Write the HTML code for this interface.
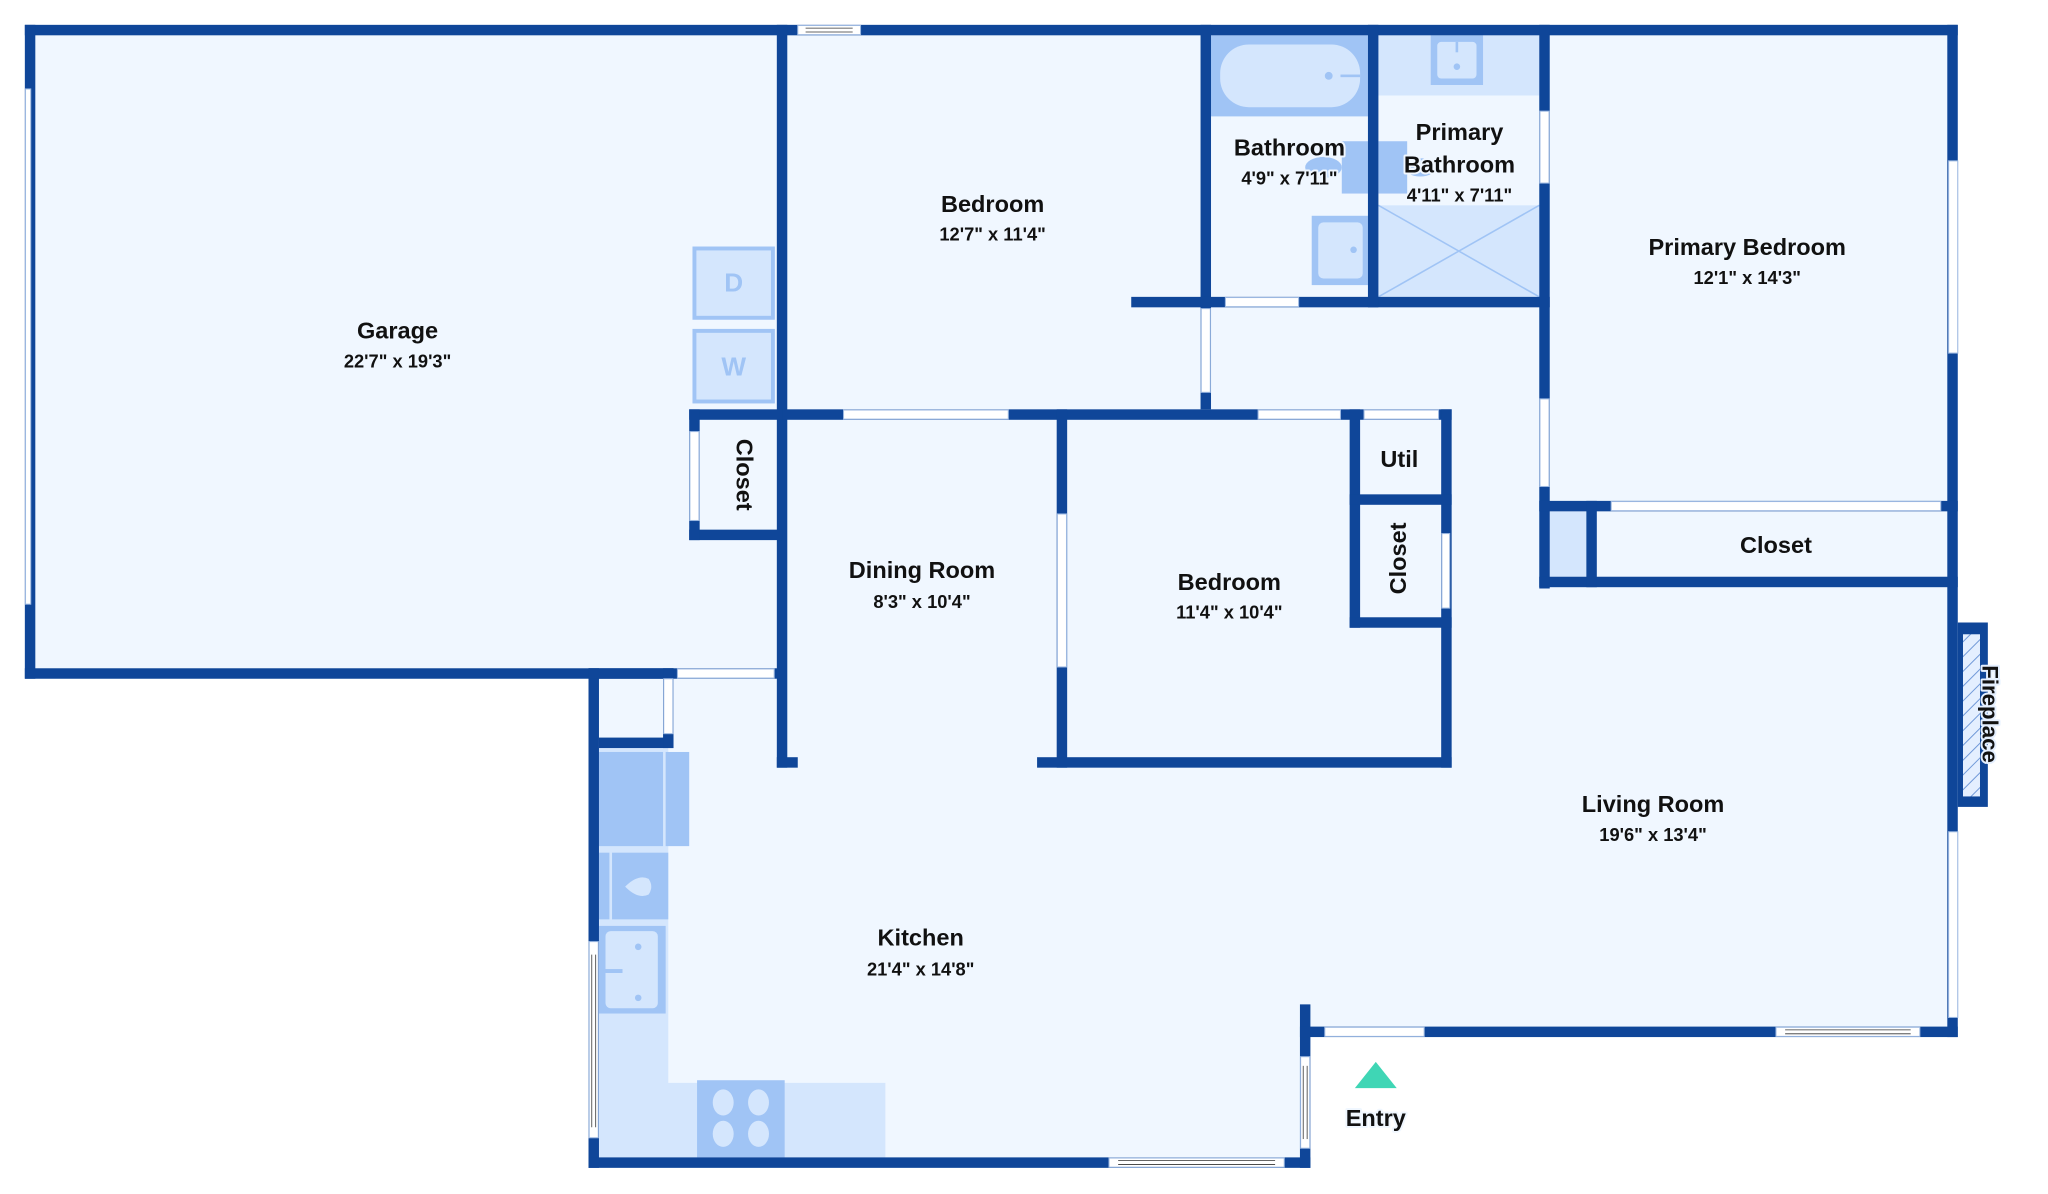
<!DOCTYPE html>
<html><head><meta charset="utf-8"><style>
html,body{margin:0;padding:0;background:#fff;}
svg{display:block;}
text{font-family:"Liberation Sans",sans-serif;font-weight:bold;fill:#111;text-anchor:middle;paint-order:stroke;stroke:#f0f7ff;stroke-width:3px;stroke-linejoin:round;}
.t{font-size:18px;}
.d{font-size:14px;}
</style></head><body>
<svg width="2048" height="1194" viewBox="0 0 1566 913" preserveAspectRatio="none" xmlns="http://www.w3.org/2000/svg">
<defs>
<pattern id="h" width="8" height="8" patternUnits="userSpaceOnUse" patternTransform="rotate(45)">
<rect width="8" height="8" fill="#e4efff"/><line x1="0" y1="0" x2="0" y2="8" stroke="#6f98d8" stroke-width="1.5"/>
</pattern>
</defs>
<polygon points="19,19 1497,19 1497,793 1002,793 1002,893 450,893 450,519 19,519" fill="#f0f7ff"/>
<polygon points="458,572 511,572 511,828 677,828 677,885 458,885" fill="#d4e6fd"/>
<rect x="458" y="575" width="49" height="72" fill="#a0c4f5"/>
<rect x="509" y="575" width="18" height="72" fill="#a0c4f5"/>
<rect x="458" y="652" width="8" height="51" fill="#a0c4f5"/>
<rect x="468" y="652" width="43" height="51" fill="#a0c4f5"/>
<path d="M478,678 Q488,668 496,672 Q500,678 496,684 Q488,688 478,678Z" fill="#d4e6fd"/>
<rect x="458" y="708" width="51" height="67" fill="#a0c4f5"/>
<rect x="463" y="712" width="40" height="59" rx="4" fill="#d4e6fd"/>
<circle cx="488" cy="724" r="2.5" fill="#a0c4f5"/><circle cx="488" cy="763" r="2.5" fill="#a0c4f5"/>
<rect x="463" y="741" width="13" height="3" fill="#a0c4f5"/>
<rect x="533" y="826" width="67" height="59" fill="#a0c4f5"/>
<ellipse cx="553" cy="843" rx="8" ry="10" fill="#d4e6fd"/><ellipse cx="580" cy="843" rx="8" ry="10" fill="#d4e6fd"/>
<ellipse cx="553" cy="867" rx="8" ry="10" fill="#d4e6fd"/><ellipse cx="580" cy="867" rx="8" ry="10" fill="#d4e6fd"/>
<rect x="531" y="190" width="60" height="53" fill="#d4e6fd" stroke="#a0c4f5" stroke-width="3"/>
<rect x="531" y="253" width="60" height="54" fill="#d4e6fd" stroke="#a0c4f5" stroke-width="3"/>
<text x="561" y="223" style="font-size:20px;fill:#a0c4f5;stroke:none">D</text>
<text x="561" y="287" style="font-size:20px;fill:#a0c4f5;stroke:none">W</text>
<rect x="926" y="27" width="120" height="62" fill="#a0c4f5"/>
<rect x="933" y="34" width="107" height="48" rx="22" fill="#d4e6fd"/>
<circle cx="1016" cy="58" r="3" fill="#a0c4f5"/><rect x="1025" y="57" width="15" height="2" fill="#a0c4f5"/>
<rect x="1026" y="108" width="20" height="40" fill="#a0c4f5"/>
<ellipse cx="1012" cy="128" rx="14" ry="8" fill="#a0c4f5"/>
<rect x="1003" y="165" width="43" height="53" fill="#a0c4f5"/>
<rect x="1008" y="170" width="34" height="43" rx="4" fill="#d4e6fd"/>
<circle cx="1035" cy="191" r="2.5" fill="#a0c4f5"/>
<rect x="1054" y="27" width="123" height="46" fill="#d4e6fd"/>
<rect x="1094" y="27" width="40" height="38" fill="#a0c4f5"/>
<rect x="1099" y="32" width="30" height="28" rx="3" fill="#d4e6fd"/>
<circle cx="1114" cy="51" r="2.5" fill="#a0c4f5"/><rect x="1113" y="32" width="2" height="8" fill="#a0c4f5"/>
<rect x="1054" y="108" width="22" height="40" fill="#a0c4f5"/>
<ellipse cx="1086" cy="128" rx="12" ry="7" fill="#a0c4f5"/>
<rect x="1054" y="157" width="123" height="70" fill="#d4e6fd"/>
<line x1="1054" y1="157" x2="1177" y2="227" stroke="#a0c4f5" stroke-width="1.2"/>
<line x1="1177" y1="157" x2="1054" y2="227" stroke="#a0c4f5" stroke-width="1.2"/>
<rect x="1181" y="391" width="32" height="50" fill="#d4e6fd"/>
<rect x="1497" y="476" width="23" height="141" fill="#0f4699"/>
<rect x="1501" y="485" width="13" height="124" fill="url(#h)"/>
<g fill="#0f4699">
<rect x="19" y="19" width="1478" height="8"/>
<rect x="19" y="19" width="8" height="500"/>
<rect x="19" y="511" width="579" height="8"/>
<rect x="594" y="19" width="8" height="568"/>
<rect x="594" y="579" width="16" height="8"/>
<rect x="527" y="313" width="71" height="8"/>
<rect x="527" y="405" width="71" height="8"/>
<rect x="527" y="313" width="8" height="100"/>
<rect x="598" y="313" width="512" height="8"/>
<rect x="918" y="19" width="8" height="294"/>
<rect x="865" y="227" width="320" height="8"/>
<rect x="1046" y="19" width="8" height="216"/>
<rect x="1177" y="19" width="8" height="431"/>
<rect x="1489" y="19" width="8" height="774"/>
<rect x="1177" y="383" width="320" height="8"/>
<rect x="1177" y="441" width="320" height="8"/>
<rect x="1213" y="383" width="8" height="66"/>
<rect x="808" y="313" width="8" height="274"/>
<rect x="793" y="579" width="317" height="8"/>
<rect x="1102" y="313" width="8" height="274"/>
<rect x="1032" y="313" width="8" height="167"/>
<rect x="1032" y="378" width="78" height="8"/>
<rect x="1032" y="472" width="78" height="8"/>
<rect x="450" y="511" width="8" height="382"/>
<rect x="450" y="885" width="552" height="8"/>
<rect x="450" y="511" width="65" height="8"/>
<rect x="458" y="564" width="57" height="8"/>
<rect x="507" y="511" width="8" height="61"/>
<rect x="994" y="768" width="8" height="125"/>
<rect x="994" y="785" width="503" height="8"/>
</g>
<g fill="#fff" stroke="#9bb7e0" stroke-width="0.8">
<rect x="610" y="19.5" width="48" height="7"/>
<rect x="19.5" y="68" width="4" height="394"/>
<rect x="518" y="511.5" width="74" height="7"/>
<rect x="527.5" y="330" width="7" height="68"/>
<rect x="645" y="313.5" width="126" height="7"/>
<rect x="962" y="313.5" width="63" height="7"/>
<rect x="1043" y="313.5" width="57" height="7"/>
<rect x="918.5" y="236" width="7" height="64"/>
<rect x="937" y="227.5" width="56" height="7"/>
<rect x="1177.5" y="85" width="7" height="55"/>
<rect x="1177.5" y="305" width="7" height="67"/>
<rect x="1490" y="123" width="7" height="147"/>
<rect x="1490" y="636" width="7" height="142"/>
<rect x="1232" y="383.5" width="252" height="7"/>
<rect x="808.5" y="393" width="7" height="117"/>
<rect x="1102.5" y="408" width="6" height="57"/>
<rect x="450.5" y="720" width="7" height="150"/>
<rect x="848" y="885.5" width="134" height="7"/>
<rect x="507.5" y="519" width="7" height="42"/>
<rect x="994.5" y="808" width="7" height="70"/>
<rect x="1013" y="785.5" width="76" height="7"/>
<rect x="1358" y="785.5" width="110" height="7"/>
</g>
<g stroke="#333" stroke-width="0.6" fill="none">
<line x1="616" y1="21.5" x2="652" y2="21.5"/><line x1="616" y1="24.5" x2="652" y2="24.5"/>
<line x1="855" y1="887.5" x2="975" y2="887.5"/><line x1="855" y1="890.5" x2="975" y2="890.5"/>
<line x1="1365" y1="787.5" x2="1461" y2="787.5"/><line x1="1365" y1="790.5" x2="1461" y2="790.5"/>
<line x1="452.5" y1="730" x2="452.5" y2="862"/><line x1="455.5" y1="730" x2="455.5" y2="862"/>
<line x1="996.5" y1="815" x2="996.5" y2="871"/><line x1="999.5" y1="815" x2="999.5" y2="871"/>
</g>
<polygon points="1052,812 1068,832 1036,832" fill="#3fd6b5"/>
<text class="t" x="304" y="259">Garage</text><text class="d" x="304" y="281">22'7" x 19'3"</text>
<text class="t" x="759" y="162">Bedroom</text><text class="d" x="759" y="184">12'7" x 11'4"</text>
<text class="t" x="986" y="119">Bathroom</text><text class="d" x="986" y="141">4'9" x 7'11"</text>
<text class="t" x="1116" y="107">Primary</text><text class="t" x="1116" y="132">Bathroom</text><text class="d" x="1116" y="154">4'11" x 7'11"</text>
<text class="t" x="1336" y="195">Primary Bedroom</text><text class="d" x="1336" y="217">12'1" x 14'3"</text>
<text class="t" x="1358" y="423">Closet</text>
<text class="t" x="1070" y="357">Util</text>
<text class="t" x="705" y="442">Dining Room</text><text class="d" x="705" y="465">8'3" x 10'4"</text>
<text class="t" x="940" y="451">Bedroom</text><text class="d" x="940" y="473">11'4" x 10'4"</text>
<text class="t" x="1264" y="621">Living Room</text><text class="d" x="1264" y="643">19'6" x 13'4"</text>
<text class="t" x="704" y="723">Kitchen</text><text class="d" x="704" y="746">21'4" x 14'8"</text>
<text class="t" x="1052" y="861">Entry</text>
<text class="t" transform="translate(563,363) rotate(90)">Closet</text>
<text class="t" transform="translate(1075,427) rotate(-90)">Closet</text>
<text class="t" transform="translate(1516,546) rotate(90)" style="font-size:17px;stroke:#e4efff">Fireplace</text>
</svg>
</body></html>
